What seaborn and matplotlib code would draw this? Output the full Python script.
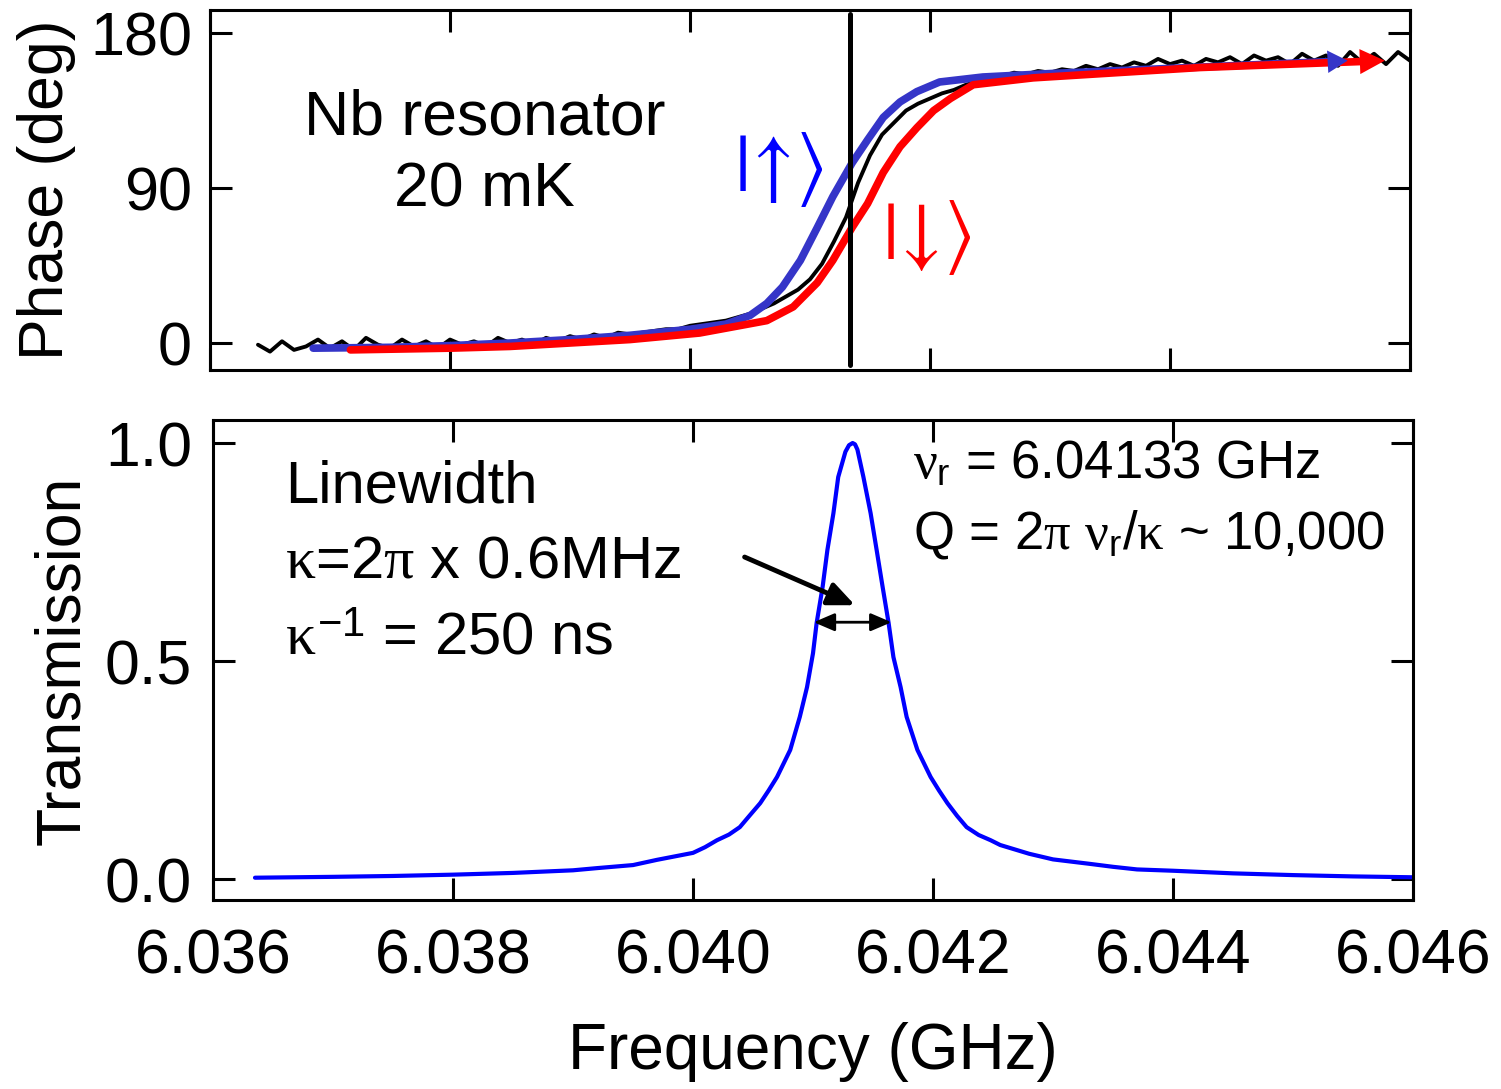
import matplotlib
matplotlib.use("Agg")
import matplotlib.pyplot as plt
import seaborn as sns

# resonance values quoted on the chart
nu_r = 6.04133       # GHz
kappa = 0.0006       # GHz  (0.6 MHz)

# measured phase (black trace), GHz / deg
phase_freq = [6.0364, 6.0365, 6.0366, 6.0367, 6.0368, 6.0369, 6.0370, 6.0371, 6.0372, 6.0373,
              6.0374, 6.0375, 6.0376, 6.0377, 6.0378, 6.0379, 6.0380, 6.0381, 6.0382, 6.0383,
              6.0384, 6.0385, 6.0386, 6.0387, 6.0388, 6.0389, 6.0390, 6.0391, 6.0392, 6.0393,
              6.0394, 6.0395, 6.0396, 6.0397, 6.0398, 6.0399, 6.0400, 6.0401, 6.0402, 6.0403,
              6.0404, 6.0405, 6.0406, 6.0407, 6.0408, 6.0409, 6.0410, 6.0411, 6.0412, 6.0413,
              6.0414, 6.0415, 6.0416, 6.0417, 6.0418, 6.0419, 6.0420, 6.0421, 6.0422, 6.0423,
              6.0424, 6.0425, 6.0426, 6.0427, 6.0428, 6.0429, 6.0430, 6.0431, 6.0432, 6.0433,
              6.0434, 6.0435, 6.0436, 6.0437, 6.0438, 6.0439, 6.0440, 6.0441, 6.0442, 6.0443,
              6.0444, 6.0445, 6.0446, 6.0447, 6.0448, 6.0449, 6.0450, 6.0451, 6.0452, 6.0453,
              6.0454, 6.0455, 6.0456, 6.0457, 6.0458, 6.0459, 6.0460]
phase_data = [-1, -5, 1, -4, -2, 2, -3, 1, -4, 3,
              -1, -3, 2, -2, 1, -3, 2, -1, 1, -2,
              3, 0, 2, -1, 3, 1, 4, 2, 5, 3,
              6, 5, 6, 7, 8, 8, 10, 11, 12, 13,
              15, 17, 20, 23, 27, 31, 37, 46, 59, 73,
              93, 109, 121, 128, 135, 139, 142, 145, 147, 150,
              152, 154, 155, 157, 156, 158, 157, 159, 158, 161,
              159, 162, 160, 163, 161, 165, 162, 164, 161, 165,
              163, 166, 162, 167, 164, 166, 162, 168, 164, 167,
              161, 169, 163, 168, 162, 169, 164]

# fit for spin up (blue), last point = arrow tip
up_freq = [6.03686, 6.0375, 6.0380, 6.0385, 6.0390, 6.0395, 6.0400, 6.0403, 6.0405, 6.04064,
           6.04077, 6.04092, 6.04106, 6.04119, 6.04135, 6.04148, 6.04161, 6.04175, 6.04189, 6.04208,
           6.04244, 6.0430, 6.0440, 6.0450, 6.04535, 6.04548]
up_phase = [-3, -2.5, -1.5, 0, 2, 4.5, 8, 11, 16, 23,
            32.5, 48, 67, 85, 104.5, 118, 131, 140, 146, 151.6,
            154.5, 156.5, 159.5, 162.5, 163.5, 164]

# fit for spin down (red), last point = arrow tip
down_freq = [6.03717, 6.0380, 6.0385, 6.0390, 6.0395, 6.04008, 6.04064, 6.04086, 6.04106, 6.04119,
             6.04135, 6.04148, 6.04161, 6.04175, 6.04189, 6.04203, 6.04217, 6.04236, 6.04286, 6.04425,
             6.0456, 6.04579]
down_phase = [-4, -3, -2, 0, 2, 5.8, 13, 21, 35, 48,
              67, 81, 99, 114, 125, 135, 142, 150, 154, 160,
              163.5, 164]

# transmission
trans_freq = [6.03635, 6.0370, 6.0375, 6.0380, 6.0385, 6.0390, 6.0392, 6.0395, 6.0397, 6.0400,
              6.0401, 6.04020, 6.0403, 6.04039, 6.04047, 6.04056, 6.04063, 6.04070, 6.04081, 6.04089,
              6.04095, 6.04100, 6.04103, 6.04108, 6.04112, 6.04117, 6.04121, 6.04127, 6.04130, 6.04133,
              6.04135, 6.04137, 6.04142, 6.04148, 6.04153, 6.04158, 6.04163, 6.04167, 6.04173, 6.04178,
              6.04187, 6.04198, 6.04205, 6.04212, 6.04220, 6.04228, 6.04238, 6.04248, 6.04256, 6.0428,
              6.0430, 6.0433, 6.0435, 6.0437, 6.0440, 6.0445, 6.0450, 6.0455, 6.0460]
trans_vals = [0.003, 0.005, 0.007, 0.010, 0.014, 0.020, 0.025, 0.032, 0.044, 0.060,
              0.073, 0.089, 0.102, 0.119, 0.145, 0.174, 0.203, 0.234, 0.296, 0.372,
              0.440, 0.518, 0.587, 0.670, 0.755, 0.839, 0.922, 0.980, 0.995, 1.000,
              0.997, 0.985, 0.922, 0.839, 0.755, 0.670, 0.587, 0.509, 0.440, 0.372,
              0.296, 0.234, 0.203, 0.174, 0.145, 0.119, 0.101, 0.089, 0.078, 0.058,
              0.045, 0.035, 0.028, 0.022, 0.019, 0.013, 0.009, 0.006, 0.004]

freq_ticks = [6.036, 6.038, 6.040, 6.042, 6.044, 6.046]
freq_labels = ["6.036", "6.038", "6.040", "6.042", "6.044", "6.046"]
phase_ticks = [0, 90, 180]
trans_ticks = [0.0, 0.5, 1.0]
trans_labels = ["0.0", "0.5", "1.0"]

sns.set_style("ticks")
plt.rcParams['font.family'] = ['Liberation Sans', 'DejaVu Sans']
plt.rcParams['mathtext.fontset'] = 'custom'
plt.rcParams['mathtext.rm'] = 'Liberation Sans'
plt.rcParams['mathtext.it'] = 'Liberation Serif'
for key in ['text.color', 'axes.labelcolor', 'xtick.color', 'ytick.color', 'axes.edgecolor']:
    plt.rcParams[key] = 'black'

fig = plt.figure(figsize=(15.01, 10.89), dpi=100)
ax1 = fig.add_axes([0.1399, 0.6602, 0.7995, 0.3306])
ax2 = fig.add_axes([0.1419, 0.1736, 0.7995, 0.4408])

blue_fit = "#3535c8"

# ---- top: phase
sns.lineplot(x=phase_freq, y=phase_data, ax=ax1, color="black", linewidth=2.8,
             estimator=None, sort=False)
sns.lineplot(x=up_freq[:-1], y=up_phase[:-1], ax=ax1, color=blue_fit, linewidth=5.5,
             estimator=None, sort=False)
ax1.annotate("", xy=(up_freq[-1], up_phase[-1]), xytext=(up_freq[-2], up_phase[-2]),
             arrowprops=dict(arrowstyle="-|>,head_length=0.8,head_width=0.45",
                             color=blue_fit, lw=0, shrinkA=0, shrinkB=0, mutation_scale=18))
sns.lineplot(x=down_freq[:-1], y=down_phase[:-1], ax=ax1, color="#ff0000", linewidth=5.5,
             estimator=None, sort=False)
ax1.annotate("", xy=(down_freq[-1], down_phase[-1]), xytext=(down_freq[-2], down_phase[-2]),
             arrowprops=dict(arrowstyle="-|>,head_length=0.9,head_width=0.45",
                             color="#ff0000", lw=0, shrinkA=0, shrinkB=0, mutation_scale=20))
ax1.axvline(nu_r, ymin=0.014, ymax=0.99, color="black", lw=3.6)

ax1.set_xlim(6.036, 6.046)
ax1.set_ylim(-15.7, 193.4)
ax1.set_xticks(freq_ticks)
ax1.set_yticks(phase_ticks)
ax1.set_ylabel("Phase (deg)", fontsize=45)
ax1.yaxis.set_label_coords(-0.112, 0.5)
ax1.set_xlabel("")
ax1.tick_params(axis="both", direction="in", length=16, width=2.2, top=True, right=True,
                labelsize=44, labelbottom=False)
ax1.tick_params(axis="y", pad=13)

ax1.text(0.229, 0.60, "Nb resonator\n20 mK", transform=ax1.transAxes, ha="center",
         va="center", fontsize=45, linespacing=1.3)
# spin kets
ax1.text(6.04074, 101, r"$|\!\uparrow\!\rangle$", color="#0000ff", fontsize=58, ha="center",
         va="center", math_fontfamily="stixsans")
ax1.text(6.04197, 61, r"$|\!\downarrow\!\rangle$", color="#ff0000", fontsize=58, ha="center",
         va="center", math_fontfamily="stixsans")

# ---- bottom: transmission
sns.lineplot(x=trans_freq, y=trans_vals, ax=ax2, color="#0000ff", linewidth=3,
             estimator=None, sort=False)
ax2.set_xlim(6.036, 6.046)
ax2.set_ylim(-0.048, 1.053)
ax2.set_xticks(freq_ticks)
ax2.set_xticklabels(freq_labels)
ax2.set_yticks(trans_ticks)
ax2.set_yticklabels(trans_labels)
ax2.set_xlabel("Frequency (GHz)", fontsize=46)
ax2.xaxis.set_label_coords(0.5, -0.255)
ax2.set_ylabel("Transmission", fontsize=45)
ax2.yaxis.set_label_coords(-0.101, 0.5)
ax2.tick_params(axis="both", direction="in", length=16, width=2.2, top=True, right=True,
                labelsize=45)
ax2.tick_params(axis="x", pad=20)
ax2.tick_params(axis="y", pad=15)

ax2.text(0.06, 0.827, "Linewidth", transform=ax2.transAxes, fontsize=43, va="baseline")
ax2.text(0.06, 0.671, "$\\kappa$=2$\\pi$ x 0.6MHz", transform=ax2.transAxes, fontsize=43,
         va="baseline")
ax2.text(0.06, 0.510, "$\\kappa^{-1}$ = 250 ns", transform=ax2.transAxes, fontsize=43,
         va="baseline")
ax2.text(0.583, 0.878, "$\\nu_\\mathrm{r}$ = 6.04133 GHz", transform=ax2.transAxes, fontsize=38,
         va="baseline")
ax2.text(0.583, 0.733, "Q = 2$\\pi$ $\\nu_\\mathrm{r}$/$\\kappa$ ~ 10,000", transform=ax2.transAxes,
         fontsize=38, va="baseline")

# linewidth arrows
ax2.annotate("", xy=(nu_r + 0.00002, 0.628), xytext=(6.04043, 0.7385),
             arrowprops=dict(arrowstyle="-|>,head_length=0.8,head_width=0.35",
                             color="black", lw=3.5, shrinkA=0, shrinkB=0, mutation_scale=20))
ax2.annotate("", xy=(nu_r + kappa * 0.54, 0.589), xytext=(nu_r - kappa * 0.54, 0.589),
             arrowprops=dict(arrowstyle="<|-|>,head_length=0.7,head_width=0.3",
                             color="black", lw=2, shrinkA=0, shrinkB=0, mutation_scale=18))

for ax in (ax1, ax2):
    for sp in ax.spines.values():
        sp.set_linewidth(2.2)
        sp.set_color("black")

fig.savefig("out.png", dpi=100)
